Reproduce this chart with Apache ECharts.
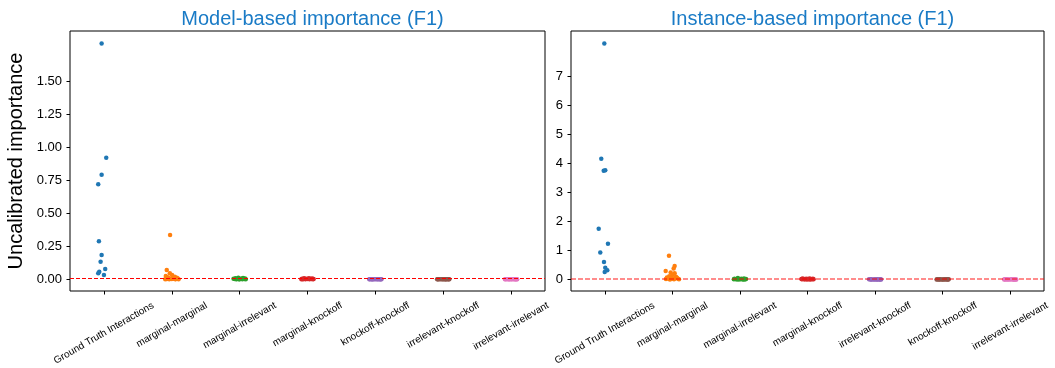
<!DOCTYPE html>
<html lang="en">
<head>
    <meta charset="UTF-8">
    <title>Uncalibrated importance (F1)</title>
    <style>
        * { margin: 0; padding: 0; }
        body { background: #fff; }
        #main { width: 1055px; height: 368px; }
    </style>
    <script src="https://cdn.jsdelivr.net/npm/echarts@6/dist/echarts.min.js"></script>
</head>
<body>
    <div id="main"></div>
<script>
    // categories of each panel
    var catsModel = ['Ground Truth Interactions', 'marginal-marginal', 'marginal-irrelevant', 'marginal-knockoff',
        'knockoff-knockoff', 'irrelevant-knockoff', 'irrelevant-irrelevant'];
    var catsInst = ['Ground Truth Interactions', 'marginal-marginal', 'marginal-irrelevant', 'marginal-knockoff',
        'irrelevant-knockoff', 'knockoff-knockoff', 'irrelevant-irrelevant'];

    var colors = ['#1f77b4', '#ff7f0e', '#2ca02c', '#d62728', '#9467bd', '#8c564b', '#e377c2'];

    // tick labels
    var yTicksModel = [0, 0.25, 0.5, 0.75, 1.0, 1.25, 1.5];
    var yTicksInst = [0, 1, 2, 3, 4, 5, 6, 7];

    // reference line
    var refModel = 0.008;
    var refInst = 0.01;

    // --- model-based importance: values and strip jitter (category units)
    var mGround = [1.783, 0.920, 0.791, 0.719, 0.287, 0.184, 0.133, 0.078, 0.058, 0.045, 0.033];
    var mGroundJ = [-0.034, 0.034, -0.034, -0.084, -0.074, -0.034, -0.049, 0.019, -0.069, -0.084, 0.0];
    var mMargMarg = [0.335, 0.070, 0.045, 0.033, 0.025, 0.020, 0.015, 0.012, 0.010, 0.008, 0.006, 0.005, 0.004, 0.003, 0.002, 0.002, 0.001, 0.001, 0.0, 0.0];
    var mMargMargJ = [-0.025, -0.074, -0.029, 0.004, -0.088, 0.044, -0.059, 0.074, 0.015, -0.044, 0.088, -0.015, 0.029, 0.059, -0.074, 0.0, 0.1, -0.037, 0.052, -0.096];
    var mMargIrr = [0.012, 0.009, 0.008, 0.006, 0.005, 0.004, 0.004, 0.003, 0.002, 0.002, 0.001, 0.001, 0.0, 0.0, 0.0];
    var mMargIrrJ = [-0.02, 0.05, -0.06, 0.08, 0.01, -0.09, 0.03, -0.04, 0.07, -0.07, 0.0, 0.09, -0.05, 0.04, -0.01];
    var mMargKo = [0.008, 0.007, 0.006, 0.005, 0.004, 0.004, 0.003, 0.003, 0.002, 0.002, 0.001, 0.001, 0.001, 0.0, 0.0];
    var mMargKoJ = [0.02, -0.05, 0.07, -0.08, 0.04, -0.02, 0.09, -0.06, 0.0, 0.06, -0.09, 0.03, -0.03, 0.08, -0.07];
    var mKoKo = [0.0009, 0.0007, 0.0006, 0.0005, 0.0004, 0.0003, 0.0003, 0.0002, 0.0002, 0.0001, 0.0001, 0.0, 0.0, 0.0];
    var mKoKoJ = [-0.08, 0.06, -0.03, 0.09, 0.01, -0.06, 0.04, -0.09, 0.07, -0.01, 0.03, -0.05, 0.08, -0.04];
    var mIrrKo = [0.0008, 0.0007, 0.0005, 0.0004, 0.0004, 0.0003, 0.0002, 0.0002, 0.0001, 0.0001, 0.0, 0.0, 0.0, 0.0];
    var mIrrKoJ = [0.05, -0.07, 0.02, -0.03, 0.09, -0.09, 0.07, 0.0, -0.05, 0.04, -0.01, 0.08, -0.08, 0.03];
    var mIrrIrr = [0.0006, 0.0005, 0.0004, 0.0004, 0.0003, 0.0002, 0.0002, 0.0001, 0.0001, 0.0, 0.0, 0.0, 0.0, 0.0];
    var mIrrIrrJ = [-0.04, 0.08, -0.09, 0.01, 0.06, -0.06, 0.03, -0.02, 0.09, -0.08, 0.05, -0.03, 0.07, 0.0];

    // --- instance-based importance
    var iGround = [8.15, 4.17, 3.75, 3.77, 1.75, 1.23, 0.93, 0.60, 0.40, 0.32, 0.26];
    var iGroundJ = [-0.007, -0.052, -0.016, 0.007, -0.09, 0.047, -0.067, -0.012, 0.007, 0.037, -0.001];
    var iMargMarg = [0.82, 0.46, 0.38, 0.29, 0.24, 0.21, 0.15, 0.11, 0.09, 0.07, 0.06, 0.05, 0.04, 0.03, 0.025, 0.02, 0.015, 0.01, 0.005, 0.0];
    var iMargMargJ = [-0.05, 0.034, 0.019, -0.099, -0.025, 0.034, -0.001, -0.046, 0.053, -0.08, 0.068, -0.021, 0.038, -0.065, 0.083, -0.006, -0.095, 0.024, 0.098, -0.036];
    var iMargIrr = [0.05, 0.03, 0.025, 0.02, 0.015, 0.012, 0.01, 0.008, 0.006, 0.005, 0.004, 0.003, 0.002, 0.001, 0.0];
    var iMargIrrJ = [-0.03, 0.06, -0.08, 0.02, 0.09, -0.05, 0.04, -0.01, 0.07, -0.09, 0.01, -0.06, 0.08, -0.03, 0.05];
    var iMargKo = [0.035, 0.03, 0.025, 0.02, 0.018, 0.015, 0.012, 0.01, 0.008, 0.006, 0.004, 0.003, 0.002, 0.001, 0.0];
    var iMargKoJ = [0.03, -0.07, 0.08, -0.02, 0.05, -0.09, 0.0, 0.09, -0.05, 0.02, -0.04, 0.07, -0.08, 0.04, -0.01];
    var iIrrKo = [0.004, 0.003, 0.003, 0.002, 0.002, 0.001, 0.001, 0.001, 0.0, 0.0, 0.0, 0.0, 0.0, 0.0];
    var iIrrKoJ = [-0.06, 0.04, -0.09, 0.08, 0.0, -0.03, 0.06, -0.07, 0.02, 0.09, -0.05, 0.03, -0.01, 0.07];
    var iKoKo = [0.004, 0.003, 0.002, 0.002, 0.002, 0.001, 0.001, 0.001, 0.0, 0.0, 0.0, 0.0, 0.0, 0.0];
    var iKoKoJ = [0.06, -0.08, 0.03, -0.04, 0.09, -0.06, 0.01, 0.07, -0.02, -0.09, 0.04, 0.08, -0.05, 0.0];
    var iIrrIrr = [0.003, 0.003, 0.002, 0.002, 0.001, 0.001, 0.001, 0.0, 0.0, 0.0, 0.0, 0.0, 0.0, 0.0];
    var iIrrIrrJ = [-0.05, 0.07, -0.08, 0.02, 0.05, -0.02, 0.09, -0.07, 0.0, 0.04, -0.09, 0.06, -0.04, 0.08];

    var panels = [
        { title: 'Model-based importance (F1)', cats: catsModel, ticks: yTicksModel, min: -0.0885, max: 1.878, digits: 2,
          ref: refModel, refStyle: { color: '#ff0000', width: 1, type: [4, 2] },
          values: [mGround, mMargMarg, mMargIrr, mMargKo, mKoKo, mIrrKo, mIrrIrr],
          jitter: [mGroundJ, mMargMargJ, mMargIrrJ, mMargKoJ, mKoKoJ, mIrrKoJ, mIrrIrrJ] },
        { title: 'Instance-based importance (F1)', cats: catsInst, ticks: yTicksInst, min: -0.40, max: 8.58, digits: 0,
          ref: refInst, refStyle: { color: 'rgba(255,0,0,0.6)', width: 1.5, type: [5, 2] },
          values: [iGround, iMargMarg, iMargIrr, iMargKo, iIrrKo, iKoKo, iIrrIrr],
          jitter: [iGroundJ, iMargMargJ, iMargIrrJ, iMargKoJ, iIrrKoJ, iKoKoJ, iIrrIrrJ] }
    ];

    var gridBoxes = [
        { left: 70, top: 31, width: 475, height: 260 },
        { left: 571, top: 31, width: 473, height: 260 }
    ];
    var font = '"Liberation Sans", Arial, sans-serif';

    function initEchart() {
        var option = {
            animation: false,
            title: [],
            grid: [],
            xAxis: [],
            yAxis: [],
            series: []
        };

        panels.forEach(function (p, gi) {
            var box = gridBoxes[gi];
            option.grid.push({
                left: box.left, top: box.top, width: box.width, height: box.height,
                show: true, borderColor: '#000', borderWidth: 1, backgroundColor: 'transparent'
            });
            option.title.push({
                text: p.title,
                left: box.left + box.width / 2,
                top: 4,
                textAlign: 'center',
                textStyle: { color: '#1a7bc6', fontSize: 20, fontWeight: 'normal', fontFamily: font }
            });
            option.xAxis.push({
                gridIndex: gi,
                type: 'value',
                min: -0.5,
                max: p.cats.length - 0.5,
                axisLine: { show: false, onZero: false },
                axisTick: {
                    show: true, length: 3.5, customValues: p.cats.map(function (c, i) { return i; }),
                    lineStyle: { color: '#000', width: 1 }
                },
                axisLabel: { show: false },
                splitLine: { show: false }
            });
            option.yAxis.push({
                gridIndex: gi,
                type: 'value',
                min: p.min,
                max: p.max,
                name: gi === 0 ? 'Uncalibrated importance' : '',
                nameLocation: 'middle',
                nameGap: 44,
                nameTextStyle: { fontSize: 20, color: '#000', fontFamily: font },
                axisLine: { show: false, onZero: false },
                axisTick: {
                    show: true, length: 3.5, customValues: p.ticks,
                    lineStyle: { color: '#000', width: 1 }
                },
                axisLabel: {
                    customValues: p.ticks,
                    margin: 8,
                    fontSize: 13,
                    color: '#000',
                    fontFamily: font,
                    formatter: function (v) { return v.toFixed(p.digits); }
                },
                splitLine: { show: false }
            });

            p.values.forEach(function (vals, ci) {
                var jit = p.jitter[ci];
                var s = {
                    type: 'scatter',
                    xAxisIndex: gi,
                    yAxisIndex: gi,
                    symbolSize: 4.5,
                    itemStyle: { color: colors[ci], opacity: 1 },
                    data: vals.map(function (v, k) { return [ci + jit[k], v]; }),
                    z: 3
                };
                if (ci === 0) {
                    s.markLine = {
                        silent: true,
                        symbol: 'none',
                        label: { show: false },
                        lineStyle: p.refStyle,
                        data: [{ yAxis: p.ref }],
                        z: 5
                    };
                }
                option.series.push(s);
            });
        });

        var myChart = echarts.init(document.getElementById('main'));
        myChart.setOption(option);

        // rotated category labels, centred under each tick like the reference
        var ctx = document.createElement('canvas').getContext('2d');
        ctx.font = '10px "Liberation Sans"';
        var labels = [];
        var rot = Math.PI / 6;
        panels.forEach(function (p, gi) {
            var bottom = myChart.convertToPixel({ yAxisIndex: gi }, p.min);
            p.cats.forEach(function (c, i) {
                var px = myChart.convertToPixel({ xAxisIndex: gi }, i);
                var w = ctx.measureText(c).width;
                var bh = w * Math.sin(rot) + 11 * Math.cos(rot);
                labels.push({
                    type: 'text',
                    x: px,
                    y: bottom + 9 + bh / 2,
                    rotation: rot,
                    silent: true,
                    style: {
                        text: c,
                        font: '10px ' + font,
                        fill: '#000',
                        align: 'center',
                        verticalAlign: 'middle',
                        textAlign: 'center',
                        textVerticalAlign: 'middle'
                    }
                });
            });
        });
        myChart.setOption({ graphic: labels });
    }
    initEchart();
</script>
</body>
</html>
